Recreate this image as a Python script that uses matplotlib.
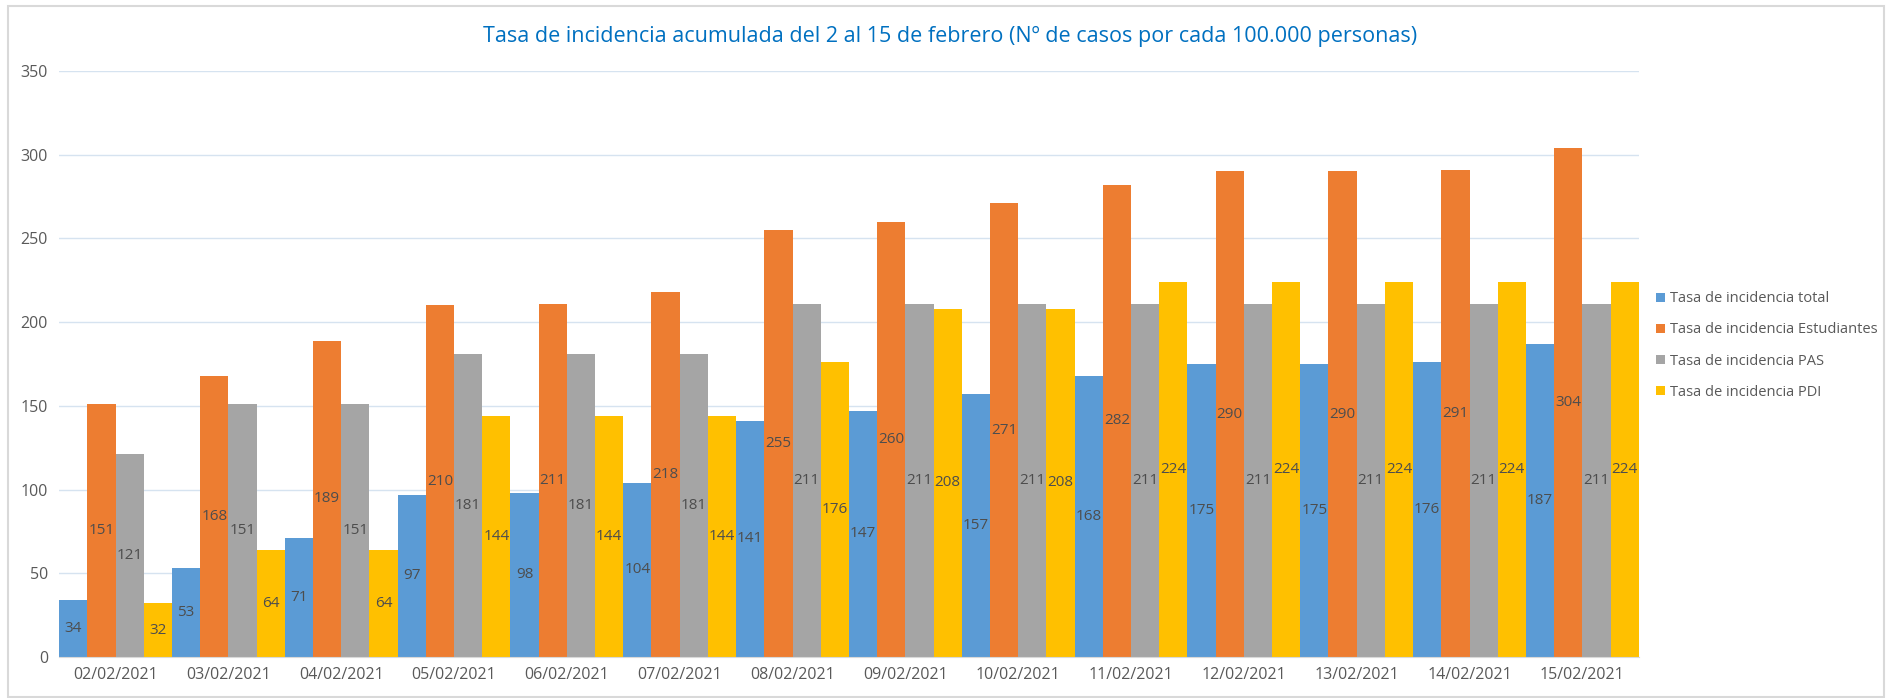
import matplotlib
matplotlib.use("Agg")
import matplotlib.pyplot as plt
import numpy as np
from matplotlib.patches import Rectangle

plt.rcParams['font.family'] = ['Open Sans', 'DejaVu Sans']

fechas = ["02/02/2021", "03/02/2021", "04/02/2021", "05/02/2021", "06/02/2021",
          "07/02/2021", "08/02/2021", "09/02/2021", "10/02/2021", "11/02/2021",
          "12/02/2021", "13/02/2021", "14/02/2021", "15/02/2021"]

tasa_total = [34, 53, 71, 97, 98, 104, 141, 147, 157, 168, 175, 175, 176, 187]
tasa_estudiantes = [151, 168, 189, 210, 211, 218, 255, 260, 271, 282, 290, 290, 291, 304]
tasa_pas = [121, 151, 151, 181, 181, 181, 211, 211, 211, 211, 211, 211, 211, 211]
tasa_pdi = [32, 64, 64, 144, 144, 144, 176, 208, 208, 224, 224, 224, 224, 224]

series = [
    ("Tasa de incidencia total", tasa_total, "#5B9BD5"),
    ("Tasa de incidencia Estudiantes", tasa_estudiantes, "#ED7D31"),
    ("Tasa de incidencia PAS", tasa_pas, "#A5A5A5"),
    ("Tasa de incidencia PDI", tasa_pdi, "#FFC000"),
]

fig = plt.figure(figsize=(18.88, 6.98), dpi=100)
ax = fig.add_axes([0.0313, 0.0587, 0.8367, 0.8396])

x = np.arange(len(fechas))
w = 0.25
for k, (name, vals, col) in enumerate(series):
    pos = x + (k - 1.5) * w
    ax.bar(pos, vals, width=w, color=col, label=name, zorder=2)
    for p, v in zip(pos, vals):
        ax.text(p, v / 2, str(v), ha="center", va="center",
                fontsize=11, color="#4D4D4D", zorder=3)

ax.set_xlim(-0.5, len(fechas) - 0.5)
ax.set_ylim(0, 350)
ax.set_yticks(range(0, 351, 50))
ax.set_xticks(x)
ax.set_xticklabels(fechas)
ax.tick_params(axis="both", length=0, labelsize=11.5, colors="#595959")
ax.tick_params(axis="x", pad=7)
ax.tick_params(axis="y", pad=8)
ax.yaxis.grid(True, color="#D6E3F0", linewidth=1, zorder=0)
ax.set_axisbelow(True)
for s in ["top", "right", "left"]:
    ax.spines[s].set_visible(False)
ax.spines["bottom"].set_color("#D9D9D9")

fig.text(0.503, 0.948, "Tasa de incidencia acumulada del 2 al 15 de febrero (Nº de casos por cada 100.000 personas)",
         ha="center", va="center", fontsize=15.5, color="#0070C0")

leg = fig.legend(loc="center left", bbox_to_anchor=(0.877, 0.505), frameon=False,
                 borderaxespad=0, borderpad=0,
                 fontsize=10.5, handlelength=0.6, handleheight=0.6, handletextpad=0.4,
                 labelspacing=1.1)
for t in leg.get_texts():
    t.set_color("#595959")

fig.patches.append(Rectangle((0.004, 0.002), 0.994, 0.99, transform=fig.transFigure,
                             fill=False, edgecolor="#D9D9D9", linewidth=1.5))

fig.savefig("out.png", dpi=100)
